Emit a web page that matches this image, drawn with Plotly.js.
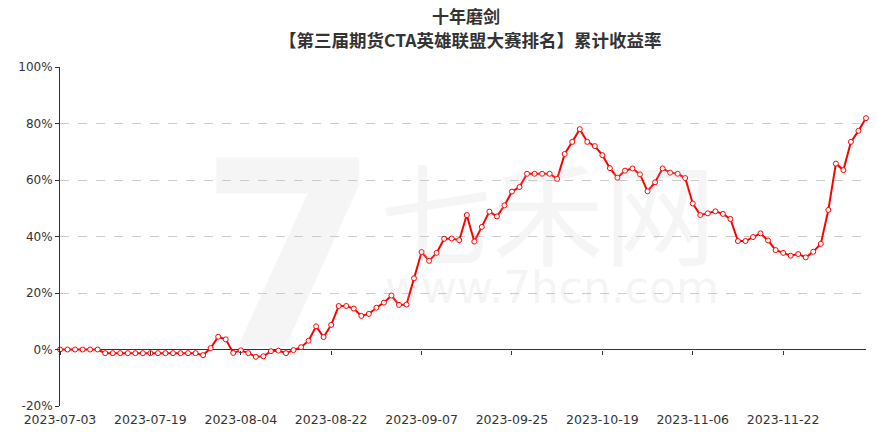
<!DOCTYPE html>
<html>
<head>
<meta charset="utf-8">
<script src="https://cdn.plot.ly/plotly-3.0.1.min.js"></script>
<style>html,body{margin:0;padding:0;background:#fff;}#chart{width:877px;height:432px;}</style>
</head>
<body>
<div id="chart"></div>
<script>
const titleLine1 = '十年磨剑';
const titleLine2 = '【第三届期货CTA英雄联盟大赛排名】累计收益率';

const dates = [
  '2023-07-03','2023-07-04','2023-07-05','2023-07-06','2023-07-07','2023-07-10','2023-07-11','2023-07-12','2023-07-13','2023-07-14',
  '2023-07-17','2023-07-18','2023-07-19','2023-07-20','2023-07-21','2023-07-24','2023-07-25','2023-07-26','2023-07-27','2023-07-28',
  '2023-07-31','2023-08-01','2023-08-02','2023-08-03','2023-08-04','2023-08-07','2023-08-08','2023-08-09','2023-08-10','2023-08-11',
  '2023-08-14','2023-08-15','2023-08-16','2023-08-17','2023-08-18','2023-08-21','2023-08-22','2023-08-23','2023-08-24','2023-08-25',
  '2023-08-28','2023-08-29','2023-08-30','2023-08-31','2023-09-01','2023-09-04','2023-09-05','2023-09-06','2023-09-07','2023-09-08',
  '2023-09-11','2023-09-12','2023-09-13','2023-09-14','2023-09-15','2023-09-18','2023-09-19','2023-09-20','2023-09-21','2023-09-22',
  '2023-09-25','2023-09-26','2023-09-27','2023-09-28','2023-10-09','2023-10-10','2023-10-11','2023-10-12','2023-10-13','2023-10-16',
  '2023-10-17','2023-10-18','2023-10-19','2023-10-20','2023-10-23','2023-10-24','2023-10-25','2023-10-26','2023-10-27','2023-10-30',
  '2023-10-31','2023-11-01','2023-11-02','2023-11-03','2023-11-06','2023-11-07','2023-11-08','2023-11-09','2023-11-10','2023-11-13',
  '2023-11-14','2023-11-15','2023-11-16','2023-11-17','2023-11-20','2023-11-21','2023-11-22','2023-11-23','2023-11-24','2023-11-27',
  '2023-11-28','2023-11-29','2023-11-30','2023-12-01','2023-12-04','2023-12-05','2023-12-06','2023-12-07'
];

const returnsPct = [
  0, 0, 0, 0, 0, 0, -1.3, -1.3, -1.3, -1.3,
  -1.3, -1.3, -1.3, -1.3, -1.3, -1.3, -1.3, -1.3, -1.3, -2.0,
  0.5, 4.5, 3.6, -1.2, -0.3, -1.3, -2.6, -2.4, -0.6, -0.4,
  -1.3, -0.2, 0.8, 3.1, 8.2, 4.4, 8.7, 15.4, 15.4, 14.5,
  11.9, 12.6, 14.8, 16.6, 19.1, 15.8, 15.9, 25.2, 34.5, 31.4,
  34.2, 39.2, 39.3, 38.7, 47.6, 38.2, 43.4, 48.8, 47.1, 51.0,
  55.9, 57.5, 62.2, 62.2, 62.2, 62.2, 60.4, 69.2, 73.5, 78.0,
  73.5, 72.0, 68.8, 64.2, 60.8, 63.3, 64.1, 62.0, 56.0, 59.2,
  64.1, 62.6, 62.2, 60.7, 51.7, 47.6, 48.2, 48.9, 48.0, 46.2,
  38.4, 38.4, 39.8, 41.1, 38.6, 35.2, 34.2, 33.2, 33.8, 32.6,
  34.6, 37.4, 49.4, 65.8, 63.5, 73.5, 77.4, 81.9
];

const labelEvery = 12;
const tickDates = dates.filter((d, i) => i % labelEvery === 0);
const yTicks = [-20, 0, 20, 40, 60, 80, 100];
const yTickText = yTicks.map(v => v + '%');

const lineTrace = {
  x: dates,
  y: returnsPct,
  type: 'scatter',
  mode: 'lines+markers',
  line: {color: '#ff0000', width: 2},
  marker: {symbol: 'circle', size: 5, color: '#ffffff', line: {color: '#ff0000', width: 1}},
  cliponaxis: false,
  hoverinfo: 'x+y'
};

const zeroAxisTrace = {
  x: dates,
  y: returnsPct,
  xaxis: 'x2',
  type: 'scatter',
  mode: 'none',
  showlegend: false,
  hoverinfo: 'skip'
};

const fontTxt = 'DejaVu Sans, Arial, sans-serif';
const titleFont1 = {family: 'Noto Sans CJK SC, sans-serif', size: 17, color: '#333333', weight: 'bold'};
const titleFont2 = {family: 'Noto Sans CJK SC, sans-serif', size: 17.5, color: '#333333', weight: 'bold'};
const wm = 'rgba(190,190,190,0.16)';

const layout = {
  width: 877,
  height: 432,
  margin: {l: 60, r: 11, t: 67, b: 26},
  paper_bgcolor: '#ffffff',
  plot_bgcolor: '#ffffff',
  showlegend: false,
  xaxis: {
    type: 'category',
    range: [0, dates.length - 1],
    tickmode: 'array',
    tickvals: tickDates,
    ticktext: tickDates,
    showgrid: false,
    showline: false,
    zeroline: false,
    ticks: '',
    ticklabelstandoff: 4,
    tickfont: {family: fontTxt, size: 12.5, color: '#333333'},
    tickangle: 0
  },
  xaxis2: {
    type: 'category',
    overlaying: 'x',
    anchor: 'free',
    position: 20 / 120,
    side: 'bottom',
    range: [0, dates.length - 1],
    tickmode: 'array',
    tickvals: tickDates,
    showticklabels: false,
    showgrid: false,
    showline: false,
    zeroline: false,
    ticks: 'outside',
    ticklen: 4,
    tickcolor: '#333333',
    tickwidth: 1
  },
  yaxis: {
    range: [-20, 100],
    tickmode: 'array',
    tickvals: yTicks,
    ticktext: yTickText,
    showgrid: true,
    gridcolor: '#cccccc',
    griddash: 'dash',
    gridwidth: 1,
    zeroline: true,
    zerolinecolor: '#333333',
    zerolinewidth: 1,
    showline: true,
    linecolor: '#333333',
    linewidth: 1,
    ticks: 'outside',
    ticklen: 4,
    tickcolor: '#333333',
    tickfont: {family: fontTxt, size: 12, color: '#333333'}
  },
  annotations: [
    {text: '7', xref: 'paper', yref: 'paper', x: 0.285, y: 0.44, xanchor: 'center', yanchor: 'middle', showarrow: false,
     font: {family: 'DejaVu Sans, sans-serif', size: 260, color: wm, weight: 'bold'}},
    {text: '七禾网', xref: 'paper', yref: 'paper', x: 0.605, y: 0.58, xanchor: 'center', yanchor: 'middle', showarrow: false,
     font: {family: 'Noto Sans CJK SC, sans-serif', size: 112, color: wm}},
    {text: 'www.7hcn.com', xref: 'paper', yref: 'paper', x: 0.61, y: 0.35, xanchor: 'center', yanchor: 'middle', showarrow: false,
     font: {family: 'DejaVu Sans, sans-serif', size: 44, color: wm}},
    {text: titleLine1, xref: 'paper', yref: 'paper', x: 0.504, y: (406 - 16) / 339, xanchor: 'center', yanchor: 'middle',
     showarrow: false, borderpad: 0, font: titleFont1},
    {text: titleLine2, xref: 'paper', yref: 'paper', x: 0.509, y: (406 - 39.5) / 339, xanchor: 'center', yanchor: 'middle',
     showarrow: false, borderpad: 0, font: titleFont2}
  ]
};

Plotly.newPlot('chart', [lineTrace, zeroAxisTrace], layout, {displayModeBar: false, staticPlot: true});
</script>
</body>
</html>
